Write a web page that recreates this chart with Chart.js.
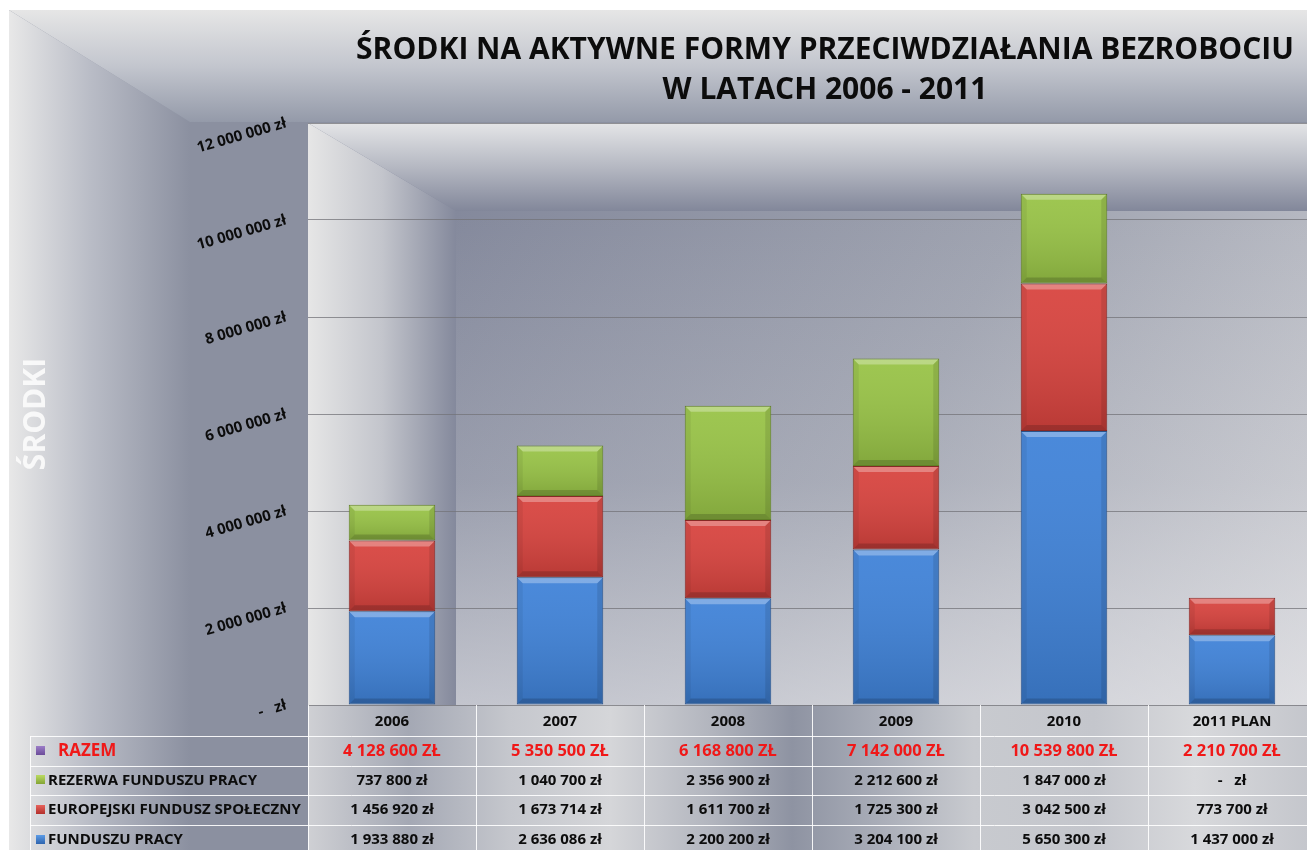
<!DOCTYPE html>
<html lang="pl">
<head>
<meta charset="utf-8">
<title>Środki na aktywne formy przeciwdziałania bezrobociu</title>
<script src="https://cdn.jsdelivr.net/npm/chart.js@4"></script>
<style>
  html, body { margin: 0; padding: 0; overflow: hidden; background: #fff; }
</style>
</head>
<body>
<canvas id="chart" width="1316" height="850"></canvas>
<script>
const years = ['2006', '2007', '2008', '2009', '2010', '2011 PLAN'];
const funduszPracy = [1933880, 2636086, 2200200, 3204100, 5650300, 1437000];
const europejskiFundusz = [1456920, 1673714, 1611700, 1725300, 3042500, 773700];
const rezerwaFunduszu = [737800, 1040700, 2356900, 2212600, 1847000, 0];
const razem = [4128600, 5350500, 6168800, 7142000, 10539800, 2210700];
const seriesNames = ['FUNDUSZU PRACY', 'EUROPEJSKI FUNDUSZ SPOŁECZNY', 'REZERWA FUNDUSZU PRACY', 'RAZEM'];
const titleLines = ['ŚRODKI NA AKTYWNE FORMY PRZECIWDZIAŁANIA BEZROBOCIU', 'W LATACH 2006 - 2011'];

const FONT = "'Open Sans', 'Liberation Sans', sans-serif";

function pln(v) {
    if (v === 0) return '-   zł';
    return String(v).replace(/\B(?=(\d{3})+(?!\d))/g, ' ') + ' zł';
}

// backgrounds: outer frame, plot area, table strip
const bgPlugin = {
    id: 'bg',
    beforeDraw(chart) {
        const ctx = chart.ctx;
        const W = chart.width, H = chart.height;
        const a = chart.chartArea;
        ctx.save();
        ctx.fillStyle = '#fff';
        ctx.fillRect(0, 0, W, H);

        const ox = 9, oy = 10, cx = 190, cy = 122;
        ctx.fillStyle = '#8b90a0';
        ctx.fillRect(ox, oy, W - ox, H - oy);
        // left strip
        let g = ctx.createLinearGradient(ox, 0, cx, 0);
        g.addColorStop(0, '#e8e8e8');
        g.addColorStop(0.45, '#b9bcc6');
        g.addColorStop(1, '#8b90a0');
        ctx.fillStyle = g;
        ctx.beginPath();
        ctx.moveTo(ox, oy); ctx.lineTo(cx, cy); ctx.lineTo(cx, H); ctx.lineTo(ox, H);
        ctx.closePath(); ctx.fill();
        // top strip
        g = ctx.createLinearGradient(0, oy, 0, cy);
        g.addColorStop(0, '#e6e6e6');
        g.addColorStop(0.5, '#c3c6ce');
        g.addColorStop(1, '#949aa9');
        ctx.fillStyle = g;
        ctx.beginPath();
        ctx.moveTo(ox, oy); ctx.lineTo(W, oy); ctx.lineTo(W, cy); ctx.lineTo(cx, cy);
        ctx.closePath(); ctx.fill();

        // plot area
        const px = a.left + 148, py = a.top + 88;
        g = ctx.createLinearGradient(px, py, a.right, a.bottom);
        g.addColorStop(0, '#84899c');
        g.addColorStop(0.5, '#9fa3b0');
        g.addColorStop(1, '#cdced3');
        ctx.fillStyle = g;
        ctx.fillRect(a.left, a.top, a.right - a.left, a.bottom - a.top);
        g = ctx.createLinearGradient(0, py, 0, a.bottom);
        g.addColorStop(0, 'rgba(235,235,238,0)');
        g.addColorStop(0.55, 'rgba(235,235,238,0.15)');
        g.addColorStop(1, 'rgba(235,235,238,0.55)');
        ctx.fillStyle = g;
        ctx.fillRect(px, py, a.right - px, a.bottom - py);
        g = ctx.createLinearGradient(a.left, 0, px, 0);
        g.addColorStop(0, '#e6e6e6');
        g.addColorStop(0.5, '#c3c5cc');
        g.addColorStop(1, '#84899c');
        ctx.fillStyle = g;
        ctx.beginPath();
        ctx.moveTo(a.left, a.top); ctx.lineTo(px, py); ctx.lineTo(px, a.bottom); ctx.lineTo(a.left, a.bottom);
        ctx.closePath(); ctx.fill();
        g = ctx.createLinearGradient(0, a.top, 0, py);
        g.addColorStop(0, '#e4e5e7');
        g.addColorStop(0.5, '#b5b8c2');
        g.addColorStop(1, '#82879a');
        ctx.fillStyle = g;
        ctx.beginPath();
        ctx.moveTo(a.left, a.top); ctx.lineTo(a.right, a.top); ctx.lineTo(a.right, py); ctx.lineTo(px, py);
        ctx.closePath(); ctx.fill();

        // table strip under the plot
        g = ctx.createLinearGradient(a.left, 0, a.right, 0);
        [[0, '#cfd0d4'], [0.1, '#a4a8b4'], [0.2, '#c5c7cd'], [0.3, '#d5d6d9'], [0.4, '#b2b5be'],
         [0.48, '#8e93a2'], [0.56, '#a7abb6'], [0.66, '#c8cacf'], [0.78, '#c4c6cc'], [0.88, '#d8d9dc'], [1, '#c3c5cb']]
            .forEach(s => g.addColorStop(s[0], s[1]));
        ctx.fillStyle = g;
        ctx.fillRect(a.left, a.bottom, a.right - a.left, H - a.bottom);
        ctx.restore();
    },
    afterDraw(chart) {
        const ctx = chart.ctx;
        ctx.save();
        ctx.fillStyle = '#0c0c0c';
        ctx.textAlign = 'center';
        ctx.textBaseline = 'alphabetic';
        ctx.font = 'bold 30px ' + FONT;
        ctx.fillText(titleLines[0], 825, 59);
        ctx.fillText(titleLines[1], 825, 99);
        ctx.restore();
    }
};

// bevel look on bars
const barShade = {
    id: 'barShade',
    afterDatasetsDraw(chart) {
        const ctx = chart.ctx;
        chart.data.datasets.forEach((ds, i) => {
            chart.getDatasetMeta(i).data.forEach(bar => {
                const p = bar.getProps(['x', 'y', 'base', 'width'], true);
                const h = p.base - p.y;
                if (h < 3) return;
                const l = p.x - p.width / 2 + 1, r = p.x + p.width / 2 - 1;
                const t = p.y + 1, b = p.base - 1, d = 5;
                ctx.save();
                const g = ctx.createLinearGradient(0, t, 0, b);
                g.addColorStop(0, 'rgba(255,255,255,0.06)');
                g.addColorStop(1, 'rgba(0,0,0,0.14)');
                ctx.fillStyle = g;
                ctx.fillRect(l, t, r - l, b - t);
                const poly = (pts, c) => {
                    ctx.fillStyle = c;
                    ctx.beginPath();
                    ctx.moveTo(pts[0], pts[1]);
                    for (let k = 2; k < pts.length; k += 2) ctx.lineTo(pts[k], pts[k + 1]);
                    ctx.closePath();
                    ctx.fill();
                };
                poly([l, t, r, t, r - d, t + d, l + d, t + d], 'rgba(255,255,255,0.3)');
                poly([l, t, l + d, t + d, l + d, b - d, l, b], 'rgba(0,0,0,0.06)');
                poly([r, t, r - d, t + d, r - d, b - d, r, b], 'rgba(0,0,0,0.1)');
                poly([l, b, r, b, r - d, b - d, l + d, b - d], 'rgba(0,0,0,0.16)');
                ctx.restore();
            });
        });
    }
};

// data table under the chart
const tablePlugin = {
    id: 'dataTable',
    afterDraw(chart) {
        const ctx = chart.ctx;
        const a = chart.chartArea;
        const x = chart.scales.x;
        const half = (x.getPixelForValue(1) - x.getPixelForValue(0)) / 2;
        const rows = [
            { name: seriesNames[3], values: razem, key: ['#9a7cc6', '#6a4a98'], red: true },
            { name: seriesNames[2], values: rezerwaFunduszu, key: ['#b6d65e', '#7d9e30'] },
            { name: seriesNames[1], values: europejskiFundusz, key: ['#e4605a', '#b02d29'] },
            { name: seriesNames[0], values: funduszPracy, key: ['#5b9be6', '#2d63ad'] }
        ];
        const top0 = a.bottom + 31, rowH = 29.6, leftX = 30;
        ctx.save();
        ctx.strokeStyle = 'rgba(255,255,255,0.9)';
        ctx.lineWidth = 1;
        ctx.beginPath();
        rows.forEach((r, i) => {
            const y = Math.round(top0 + i * rowH) + 0.5;
            ctx.moveTo(leftX, y); ctx.lineTo(chart.width, y);
        });
        ctx.moveTo(leftX + 0.5, top0); ctx.lineTo(leftX + 0.5, chart.height);
        years.forEach((yr, i) => {
            const bx = Math.round(x.getPixelForValue(i) - half) + 0.5;
            ctx.moveTo(bx, a.bottom); ctx.lineTo(bx, chart.height);
        });
        ctx.stroke();

        ctx.textBaseline = 'middle';
        rows.forEach((r, i) => {
            const cy = top0 + (i + 0.5) * rowH;
            const kg = ctx.createLinearGradient(0, cy - 4.5, 0, cy + 4.5);
            kg.addColorStop(0, r.key[0]);
            kg.addColorStop(1, r.key[1]);
            ctx.fillStyle = kg;
            ctx.fillRect(36, Math.round(cy - 5), 9, 9);
            ctx.textAlign = 'left';
            if (r.red) {
                ctx.fillStyle = '#f01818';
                ctx.font = 'bold 17px ' + FONT;
                ctx.fillText(r.name, 58, cy);
            } else {
                ctx.fillStyle = '#0c0c0c';
                ctx.font = 'bold 15px ' + FONT;
                ctx.fillText(r.name, 48, cy);
            }
            ctx.textAlign = 'center';
            r.values.forEach((v, j) => {
                const cx = x.getPixelForValue(j);
                if (r.red) {
                    ctx.fillStyle = '#f01818';
                    ctx.font = 'bold 16.5px ' + FONT;
                    ctx.fillText(pln(v).toUpperCase(), cx, cy);
                } else {
                    ctx.fillStyle = '#0c0c0c';
                    ctx.font = 'bold 15px ' + FONT;
                    ctx.fillText(pln(v), cx, cy);
                }
            });
        });
        ctx.restore();
    }
};

const border1 = c => (c.raw ? 1 : 0);

new Chart(document.getElementById('chart'), {
    type: 'bar',
    data: {
        labels: years,
        datasets: [
            { label: seriesNames[0], data: funduszPracy, backgroundColor: '#3f82d8', borderColor: '#2a5288', borderWidth: border1 },
            { label: seriesNames[1], data: europejskiFundusz, backgroundColor: '#d8433e', borderColor: '#862925', borderWidth: border1 },
            { label: seriesNames[2], data: rezerwaFunduszu, backgroundColor: '#98c346', borderColor: '#617f26', borderWidth: border1 }
        ]
    },
    options: {
        responsive: false,
        animation: false,
        layout: { padding: { top: 123, left: 9, right: 0, bottom: 0 } },
        datasets: { bar: { categoryPercentage: 0.515, barPercentage: 1, borderSkipped: false } },
        plugins: {
            legend: { display: false },
            tooltip: { enabled: false },
            title: { display: false }
        },
        scales: {
            x: {
                stacked: true,
                grid: { display: false },
                border: { display: false },
                ticks: { color: '#0c0c0c', padding: 0, font: { family: FONT, size: 15, weight: 'bold' } },
                afterFit: s => { s.height = 145; }
            },
            y: {
                stacked: true,
                min: 0,
                max: 12000000,
                ticks: {
                    stepSize: 2000000,
                    minRotation: 16,
                    maxRotation: 16,
                    padding: 22,
                    color: '#0c0c0c',
                    font: { family: FONT, size: 15, weight: 'bold' },
                    callback: v => pln(v)
                },
                grid: { color: 'rgba(115,115,120,0.75)', drawTicks: false },
                border: { display: false },
                title: {
                    display: true,
                    text: 'ŚRODKI',
                    color: 'rgba(250,250,250,0.95)',
                    font: { family: FONT, size: 30, weight: 'bold' },
                    padding: { top: 9, bottom: 0 }
                },
                afterFit: s => { s.width = 299; }
            }
        }
    },
    plugins: [bgPlugin, barShade, tablePlugin]
});
</script>
</body>
</html>
